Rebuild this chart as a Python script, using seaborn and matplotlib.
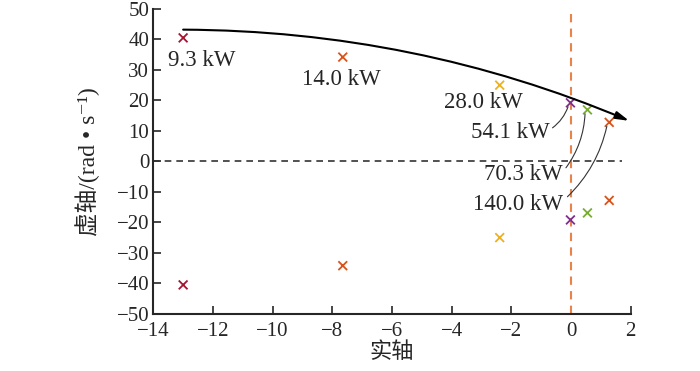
import numpy as np
import pandas as pd
import matplotlib
matplotlib.use("Agg")
import matplotlib.pyplot as plt
import seaborn as sns

# data: closed-loop poles for each power level
power = ["9.3 kW", "14.0 kW", "28.0 kW", "54.1 kW", "70.3 kW", "140.0 kW"]
real_part = [-13.0, -7.65, -2.39, -0.02, 0.55, 1.28]
imag_part = [40.5, 34.2, 25.0, 19.2, 16.9, 12.8]
colors = ["#a2142f", "#d95319", "#edb120", "#7e2f8e", "#77ac30", "#d95319"]

df = pd.DataFrame({
    "power": power * 2,
    "re": real_part * 2,
    "im": imag_part + [-v for v in imag_part],
})

sns.set_style("ticks")
plt.rcParams["font.family"] = ["Liberation Serif", "Noto Sans CJK SC", "DejaVu Serif"]

fig = plt.figure(figsize=(7, 3.71), dpi=100)
ax = fig.add_axes([0.219, 0.154, 0.682, 0.822])

ax.axvline(0, color="#e8834a", ls=(0, (4, 3)), lw=1.5, zorder=1)
ax.plot([-14, 1.72], [0, 0], color="#333333", ls=(0, (4, 3)), lw=1.2, zorder=1)

sns.scatterplot(data=df, x="re", y="im", hue="power", palette=colors,
                marker="x", s=40, linewidth=1.3, legend=False, ax=ax, zorder=3)

ax.set_xlim(-14, 2)
ax.set_ylim(-50, 50)
xt = list(range(-14, 3, 2))
yt = list(range(-50, 51, 10))
ax.set_xticks(xt)
ax.set_yticks(yt)
ax.set_xticklabels(["\u2212" + str(-t) if t < 0 else str(t) for t in xt])
ax.set_yticklabels(["\u2212" + str(-t) if t < 0 else str(t) for t in yt])
sns.despine(ax=ax)
for side in ["left", "bottom"]:
    ax.spines[side].set_linewidth(1.5)
ax.tick_params(direction="in", length=6, width=1.2, labelsize=15)
ax.tick_params(axis="x", pad=6)
ax.tick_params(axis="y", pad=3)

ax.set_xlabel("实轴", fontsize=16, labelpad=1)
ax.set_ylabel("虚轴/(rad • s\u207b\u00b9)", fontsize=17, labelpad=12)

fs = 16.5
ax.text(-13.5, 33, power[0], fontsize=fs, va="center", ha="left")
ax.text(-9.0, 26.7, power[1], fontsize=fs, va="center", ha="left")
ax.text(-4.25, 19.3, power[2], fontsize=fs, va="center", ha="left")

# labels with leader lines
label_pos = [(-0.72, 9.5), (-0.28, -4.4), (-0.28, -14.3)]
line_start = [(-0.62, 11.0), (-0.17, -2.1), (-0.12, -11.6)]
for i, (tx, ty), (sx, sy) in zip([3, 4, 5], label_pos, line_start):
    ax.text(tx, ty, power[i], fontsize=fs, va="center", ha="right")
    ax.annotate("", xy=(real_part[i] - 0.08, imag_part[i] - 1.3), xytext=(sx, sy),
                arrowprops=dict(arrowstyle="-", color="#333333", lw=0.8,
                                connectionstyle="arc3,rad=0.15",
                                shrinkA=0, shrinkB=0))

# trend arrow
ax.annotate("", xy=(1.95, 13.3), xytext=(-13.0, 43.2),
            arrowprops=dict(arrowstyle="-|>,head_length=0.8,head_width=0.22",
                            color="black", lw=1.5,
                            connectionstyle="arc3,rad=-0.1",
                            shrinkA=0, shrinkB=0))

fig.savefig("out.png", dpi=100)
